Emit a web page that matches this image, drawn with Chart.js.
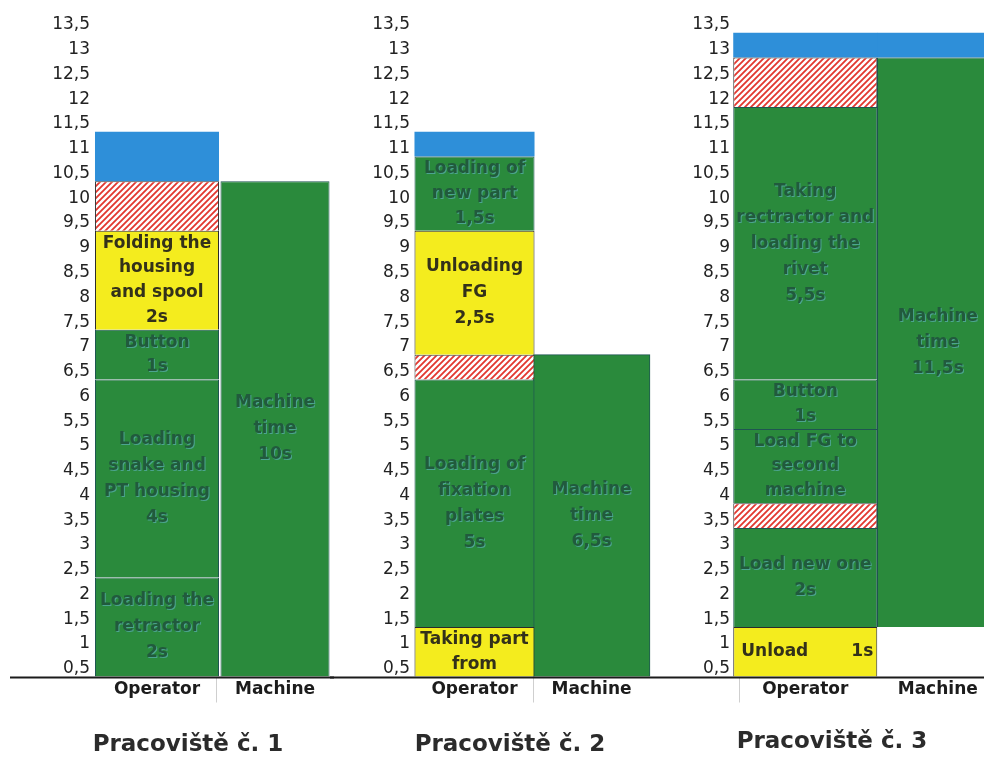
<!DOCTYPE html>
<html>
<head>
<meta charset="utf-8">
<script src="https://cdn.jsdelivr.net/npm/chart.js@4.4.1/dist/chart.umd.min.js"></script>
<style>
  html, body { margin: 0; padding: 0; background: #fff; width: 984px; height: 758px; overflow: hidden; }
  canvas { position: absolute; top: 0; }
</style>
</head>
<body>
<canvas id="st1" width="334" height="758" style="left:0px"></canvas>
<canvas id="st2" width="330" height="758" style="left:330px"></canvas>
<canvas id="st3" width="344" height="758" style="left:660px"></canvas>
<script>
// ---- data -------------------------------------------------------------
const categories = ['Operator', 'Machine'];
const stationTitles = ['Pracoviště č. 1', 'Pracoviště č. 2', 'Pracoviště č. 3'];
const yRange = { min: 0, max: 13.5, step: 0.5 };

// Station 1: operator steps in seconds (bottom to top)
const st1OperatorTimes = [2, 4, 1, 2, 1, 1];
const st1OperatorKinds = ['work', 'work', 'work', 'manual', 'wait', 'reserve'];
const st1OperatorTexts = [
  ['Loading the', 'retractor', '2s'],
  ['Loading', 'snake and', 'PT housing', '4s'],
  ['Button', '1s'],
  ['Folding the', 'housing', 'and spool', '2s'],
  [],
  []
];
const st1MachineStart = 0;
const st1MachineTime = 10;
const st1MachineReserve = 0;
const st1MachineText = ['Machine', 'time', '10s'];

// Station 2
const st2OperatorTimes = [1, 5, 0.5, 2.5, 1.5, 0.5];
const st2OperatorKinds = ['manual', 'work', 'wait', 'manual', 'work', 'reserve'];
const st2OperatorTexts = [
  ['Taking part', 'from'],
  ['Loading of', 'fixation', 'plates', '5s'],
  [],
  ['Unloading', 'FG', '2,5s'],
  ['Loading of', 'new part', '1,5s'],
  []
];
const st2MachineStart = 0;
const st2MachineTime = 6.5;
const st2MachineReserve = 0;
const st2MachineText = ['Machine', 'time', '6,5s'];

// Station 3
const st3OperatorTimes = [1, 2, 0.5, 1.5, 1, 5.5, 1, 0.5];
const st3OperatorKinds = ['manual', 'work', 'wait', 'work', 'work', 'work', 'wait', 'reserve'];
const st3OperatorTexts = [
  ['Unload\t1s'],
  ['Load new one', '2s'],
  [],
  ['Load FG to', 'second', 'machine'],
  ['Button', '1s'],
  ['Taking', 'rectractor and', 'loading the', 'rivet', '5,5s'],
  [],
  []
];
const st3MachineStart = 1;
const st3MachineTime = 11.5;
const st3MachineReserve = 0.5;
const st3MachineText = ['Machine', 'time', '11,5s'];

// ---- styling ----------------------------------------------------------
const FONT = "'DejaVu Sans', sans-serif";
Chart.defaults.font.family = FONT;

function hatchPattern() {
  const c = document.createElement('canvas');
  c.width = 6; c.height = 6;
  const g = c.getContext('2d');
  g.fillStyle = '#ffffff';
  g.fillRect(0, 0, 6, 6);
  g.strokeStyle = '#e2372f';
  g.lineWidth = 1.8;
  g.beginPath();
  g.moveTo(-1, 7); g.lineTo(7, -1);
  g.moveTo(-4, 4); g.lineTo(4, -4);
  g.moveTo(2, 10); g.lineTo(10, 2);
  g.stroke();
  return g.createPattern(c, 'repeat');
}
const HATCH = hatchPattern();

const kindStyle = {
  work:    { fill: '#2a8a3c', border: '#1f5552', width: 1, text: '#215a3d', engraved: true },
  manual:  { fill: '#f4ec1e', border: '#2b2b2b', width: 1, text: '#33311a', engraved: false },
  wait:    { fill: HATCH,     border: '#3a3a3a', width: 1, text: '#000',    engraved: false },
  reserve: { fill: '#2e8fd9', border: '#2e8fd9', width: 0, text: '#000',    engraved: false }
};

// per-station frame geometry
const frames = [
  { id: 'st1', padLeft: 42, padRight: 0,  yWidth: 56, tickPad: 8, opPct: 1.051, mPct: 0.924, lineFrom: 10, sepIdx: [1],    titleTop: 24.5, titleBottom: -0.6 },
  { id: 'st2', padLeft: 40, padRight: 10, yWidth: 46, tickPad: 6, opPct: 1.026, mPct: 1.0,   lineFrom: 0,  sepIdx: [1, 2], titleTop: 24.5, titleBottom: -0.6 },
  { id: 'st3', padLeft: 0,  padRight: 0,  yWidth: 79, tickPad: 9, opPct: 1.087, mPct: 0.917, lineFrom: 0,  sepIdx: [0],    titleTop: 21.5, titleBottom: 2.4 }
];

const stations = [
  { times: st1OperatorTimes, kinds: st1OperatorKinds, texts: st1OperatorTexts, mStart: st1MachineStart, mTime: st1MachineTime, mReserve: st1MachineReserve, mText: st1MachineText },
  { times: st2OperatorTimes, kinds: st2OperatorKinds, texts: st2OperatorTexts, mStart: st2MachineStart, mTime: st2MachineTime, mReserve: st2MachineReserve, mText: st2MachineText },
  { times: st3OperatorTimes, kinds: st3OperatorKinds, texts: st3OperatorTexts, mStart: st3MachineStart, mTime: st3MachineTime, mReserve: st3MachineReserve, mText: st3MachineText }
];

// floating bar dataset for one segment
function segment(range, onMachine, kind, texts, pct) {
  const st = kindStyle[kind];
  return {
    data: onMachine ? [null, range] : [range, null],
    backgroundColor: st.fill,
    borderColor: st.border,
    borderWidth: st.width,
    barPercentage: pct,
    categoryPercentage: 1,
    grouped: false,
    clip: false,
    segmentText: texts,
    segmentKind: kind
  };
}

function buildDatasets(s, f) {
  const sets = [];
  let t = 0;
  s.times.forEach((d, i) => {
    sets.push(segment([t, t + d], false, s.kinds[i], s.texts[i], f.opPct));
    t += d;
  });
  const mEnd = s.mStart + s.mTime;
  sets.push(segment([s.mStart, mEnd], true, 'work', s.mText, f.mPct));
  if (s.mReserve > 0) sets.push(segment([mEnd, mEnd + s.mReserve], true, 'reserve', [], f.mPct));
  return sets;
}

// writes the step descriptions inside each bar
const segmentTextPlugin = {
  id: 'segmentText',
  afterDatasetsDraw(chart) {
    const ctx = chart.ctx;
    ctx.save();
    ctx.font = 'bold 17px ' + FONT;
    ctx.textBaseline = 'middle';
    chart.data.datasets.forEach((ds, di) => {
      const lines = ds.segmentText;
      if (!lines || !lines.length) return;
      const st = kindStyle[ds.segmentKind];
      const meta = chart.getDatasetMeta(di);
      meta.data.forEach((bar, j) => {
        if (ds.data[j] == null) return;
        const p = bar.getProps(['x', 'y', 'base', 'width'], true);
        const cy = (p.y + p.base) / 2;
        const gap = Math.min(26, Math.abs(p.base - p.y) / lines.length);
        lines.forEach((line, k) => {
          const ly = cy + (k - (lines.length - 1) / 2) * gap;
          const draw = (txt, x, align) => {
            ctx.textAlign = align;
            if (st.engraved) {
              ctx.shadowColor = 'rgba(110, 190, 225, 0.5)';
              ctx.shadowOffsetX = 1; ctx.shadowOffsetY = 1; ctx.shadowBlur = 0;
            }
            ctx.fillStyle = st.text;
            ctx.fillText(txt, x, ly);
            ctx.shadowColor = 'transparent';
          };
          if (line.indexOf('\t') >= 0) {
            const [l, r] = line.split('\t');
            draw(l, p.x - p.width / 2 + 8, 'left');
            draw(r, p.x + p.width / 2 - 4, 'right');
          } else {
            draw(line, p.x, 'center');
          }
        });
      });
    });
    ctx.restore();
  }
};

// long black base line under the bars
const baselinePlugin = {
  id: 'baseline',
  afterDraw(chart, args, opts) {
    const ctx = chart.ctx;
    const y = chart.chartArea.bottom + 1;
    ctx.save();
    ctx.strokeStyle = '#1b1b1b';
    ctx.lineWidth = 2;
    ctx.beginPath();
    ctx.moveTo(opts.from, y);
    ctx.lineTo(chart.width, y);
    ctx.stroke();
    ctx.restore();
  }
};

frames.forEach((f, idx) => {
  const s = stations[idx];
  new Chart(document.getElementById(f.id), {
    type: 'bar',
    data: { labels: categories, datasets: buildDatasets(s, f) },
    plugins: [segmentTextPlugin, baselinePlugin],
    options: {
      responsive: false,
      animation: false,
      devicePixelRatio: 1,
      layout: { padding: { top: 8, bottom: 0, left: f.padLeft, right: f.padRight } },
      plugins: {
        legend: { display: false },
        tooltip: { enabled: false },
        baseline: { from: f.lineFrom },
        title: {
          display: true,
          text: stationTitles[idx],
          position: 'bottom',
          color: '#2b2b2b',
          font: { family: FONT, size: 23, weight: 'bold' },
          padding: { top: f.titleTop, bottom: f.titleBottom }
        }
      },
      scales: {
        x: {
          type: 'category',
          offset: true,
          border: { display: false },
          grid: {
            display: true,
            offset: true,
            drawOnChartArea: false,
            drawTicks: true,
            tickLength: 26,
            lineWidth: 1,
            color: (c) => f.sepIdx.includes(c.index) ? '#cfcfcf' : 'rgba(0,0,0,0)'
          },
          ticks: {
            padding: -23,
            color: '#1c1c1c',
            font: { family: FONT, size: 17, weight: 'bold' },
            maxRotation: 0,
            autoSkip: false
          },
          afterFit: (sc) => { sc.height = 30; sc.paddingLeft = 0; sc.paddingRight = 0; }
        },
        y: {
          min: yRange.min,
          max: yRange.max,
          border: { display: false },
          grid: { display: false, drawTicks: false },
          ticks: {
            stepSize: yRange.step,
            autoSkip: false,
            padding: f.tickPad,
            labelOffset: 17,
            color: '#222',
            font: { family: FONT, size: 17 },
            callback: (v) => v === 0 ? '' : String(v).replace('.', ',')
          },
          afterFit: (sc) => { sc.width = f.yWidth; sc.paddingTop = 0; sc.paddingBottom = 0; }
        }
      }
    }
  });
});
</script>
</body>
</html>
